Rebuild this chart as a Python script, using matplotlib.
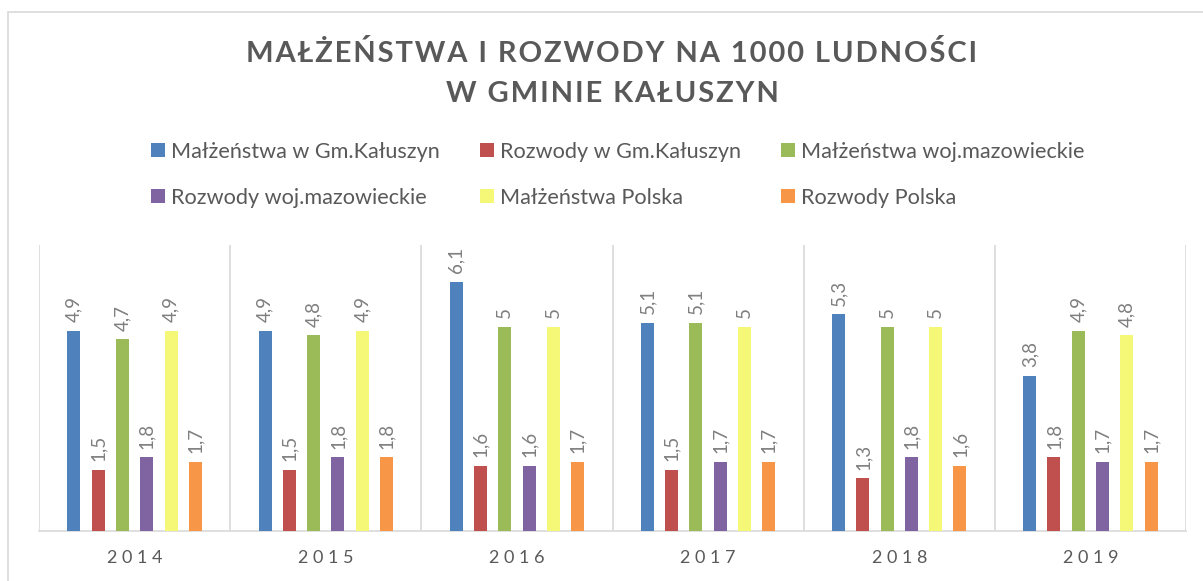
import matplotlib.pyplot as plt
from matplotlib.patches import Rectangle

plt.rcParams['font.family'] = ['Lato', 'DejaVu Sans']

years = ["2014", "2015", "2016", "2017", "2018", "2019"]
series_names = [
    "Małżeństwa w Gm.Kałuszyn",
    "Rozwody w Gm.Kałuszyn",
    "Małżeństwa woj.mazowieckie",
    "Rozwody woj.mazowieckie",
    "Małżeństwa Polska",
    "Rozwody Polska",
]
malz_gmina = [4.9, 4.9, 6.1, 5.1, 5.3, 3.8]
rozw_gmina = [1.5, 1.5, 1.6, 1.5, 1.3, 1.8]
malz_woj = [4.7, 4.8, 5.0, 5.1, 5.0, 4.9]
rozw_woj = [1.8, 1.8, 1.6, 1.7, 1.8, 1.7]
malz_pl = [4.9, 4.9, 5.0, 5.0, 5.0, 4.8]
rozw_pl = [1.7, 1.8, 1.7, 1.7, 1.6, 1.7]
series = [malz_gmina, rozw_gmina, malz_woj, rozw_woj, malz_pl, rozw_pl]
colors = ["#4F81BD", "#C0504D", "#9BBB59", "#8064A2", "#F5F777", "#F79646"]

W, H = 1203, 581
fig = plt.figure(figsize=(W / 100, H / 100), dpi=100)
# chart border (cropped like in the source)
fig.patches.append(Rectangle((8 / W, -0.1), 1.2, 1 - 12 / H + 0.1, transform=fig.transFigure,
                             fill=False, edgecolor="#D9D9D9", linewidth=1.2))

ax = fig.add_axes([39 / W, 1 - 531 / H, (1186 - 39) / W, (531 - 245) / H])
grey_line = "#D9D9D9"

pitch = 0.127
width = 0.068
x = list(range(len(years)))
handles = []
for i, (vals, col, name) in enumerate(zip(series, colors, series_names)):
    xs = [xx + (i - 2.5) * pitch for xx in x]
    b = ax.bar(xs, vals, width=width, color=col, label=name, zorder=3)
    handles.append(b)
    for xx, v in zip(xs, vals):
        txt = f"{v:g}".replace(".", ",")
        ax.annotate(txt, (xx, v), xytext=(0, 6), textcoords="offset points",
                    rotation=90, ha="center", va="bottom", fontsize=13.5, color="#7F7F7F")

ax.set_xlim(-0.5, len(years) - 0.5)
ax.set_ylim(0, 7)
for k in range(len(years) + 1):
    ax.axvline(k - 0.5, color=grey_line, linewidth=1.2, zorder=1)
for s in ["top", "right", "left"]:
    ax.spines[s].set_visible(False)
ax.spines["bottom"].set_color(grey_line)
ax.spines["bottom"].set_linewidth(1.2)
ax.set_yticks([])
ax.set_xticks(x)
ax.set_xticklabels([" ".join(y) for y in years], fontsize=13, color="#595959")
ax.tick_params(axis="x", length=0, pad=14)

sp = "\u200a"
line1 = sp.join("MAŁŻEŃSTWA I ROZWODY NA 1000 LUDNOŚCI")
line2 = sp.join("W GMINIE KAŁUSZYN")
fig.text(612 / W, 1 - 53 / H, line1, ha="center", va="center", fontsize=21,
         fontweight="bold", color="#595959")
fig.text(612 / W, 1 - 94 / H, line2, ha="center", va="center", fontsize=21,
         fontweight="bold", color="#595959")

order = [0, 3, 1, 4, 2, 5]
leg = fig.legend([handles[i] for i in order], [series_names[i] for i in order],
                 ncol=3, loc="center", bbox_to_anchor=(618 / W, 1 - 175 / H),
                 frameon=False, fontsize=15.6, labelcolor="#595959",
                 handlelength=0.62, handleheight=0.62, handletextpad=0.3,
                 columnspacing=1.85, labelspacing=1.2)

fig.savefig("out.png", dpi=100)
